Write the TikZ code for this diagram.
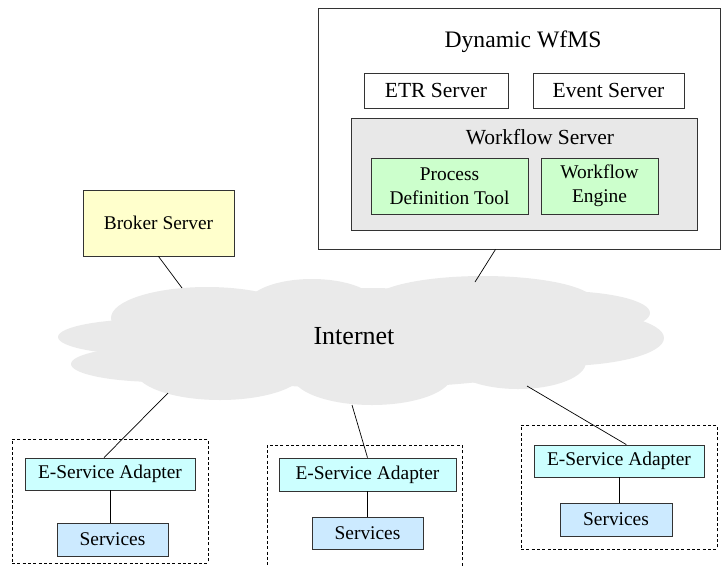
\documentclass[tikz,border=0pt]{standalone}
\usepackage{fontspec}
\setmainfont{Liberation Serif}
\definecolor{brokeryellow}{RGB}{255, 255, 204}
\definecolor{toolgreen}{RGB}{204, 255, 204}
\definecolor{adaptcyan}{RGB}{204, 255, 255}
\definecolor{servblue}{RGB}{204, 234, 255}
\definecolor{servergray}{RGB}{232, 232, 232}
\definecolor{cloudgray}{RGB}{234, 234, 234}
\usepackage{tikz}
\usetikzlibrary{positioning}
\newcommand{\pxu}{0.025cm}

\tikzset{
  srvbox/.style={draw=black!80, line width=0.6pt, inner sep=0pt, align=center,
    font=\fontsize{13.8}{17}\selectfont},
  sized/.style 2 args={minimum width=#1*\pxu, minimum height=#2*\pxu},
  headfont/.style={font=\fontsize{15.3}{18}\selectfont},
  grpbox/.style={draw=black, line width=0.6pt, dash pattern=on 2.2pt off 1.6pt, inner sep=0pt},
  link/.style={draw=black, line width=0.5pt}
}

\begin{document}
\begin{tikzpicture}[x=0.025cm, y=-0.025cm]
  \clip (0,0) rectangle (721,566);

  % Internet cloud
  \begin{scope}[fill=cloudgray]
    \fill (150,337) ellipse [x radius=92, y radius=18];
    \fill (160,364) ellipse [x radius=89, y radius=18];
    \fill (207,318) ellipse [x radius=96, y radius=31];
    \fill (312,305) ellipse [x radius=65, y radius=26];
    \fill (483,302) ellipse [x radius=112, y radius=26];
    \fill (560,313) ellipse [x radius=90, y radius=22];
    \fill (560,338) ellipse [x radius=104, y radius=28];
    \fill (518,362) ellipse [x radius=68, y radius=27];
    \fill (372,375) ellipse [x radius=80, y radius=30];
    \fill (220,370) ellipse [x radius=85, y radius=30];
    \fill (360,338) ellipse [x radius=250, y radius=50];
  \end{scope}
  \node[font=\fontsize{18.5}{22}\selectfont] (inet) at (354,336) {Internet};
  \coordinate (netbk) at (182,288);
  \coordinate (netwf) at (475,282);
  \coordinate (net1) at (168,393);
  \coordinate (net2) at (352,405);
  \coordinate (net3) at (527,386);

  % Dynamic WfMS
  \node[srvbox, sized={402}{241}] (wfms) at (519,128.5) {};
  \node[font=\fontsize{16.8}{20}\selectfont] (wftitle) at (523,42) {Dynamic WfMS};
  \node[srvbox, headfont, sized={144}{35}] (etr) at (436,90.5) {ETR Server};
  \node[srvbox, headfont, sized={151}{35}] (event) at (608.5,90.5) {Event Server};
  \node[srvbox, fill=servergray, sized={346}{112}] (wfsrv) at (524,174) {};
  \node[headfont] (wfsrvlabel) at (540,137) {Workflow Server};
  \node[srvbox, fill=toolgreen, sized={157}{56}] (pdt) at (449.5,186) {Process\\Definition Tool};
  \node[srvbox, fill=toolgreen, sized={117}{56}] (wfe) at (599.5,186) {Workflow\\Engine};

  % Broker
  \node[srvbox, fill=brokeryellow, sized={151}{66}] (broker) at (158.5,223) {Broker Server};

  % E-service sites
  \node[grpbox, sized={196}{124}] (grp1) at (110,501) {};
  \node[srvbox, fill=adaptcyan, sized={170}{32}] (ad1) at (110,474) {E-Service Adapter};
  \node[srvbox, fill=servblue, sized={111}{33}] (svc1) at (112.5,539.5) {Services};

  \node[grpbox, sized={195}{134}] (grp2) at (364.5,512) {};
  \node[srvbox, fill=adaptcyan, sized={177}{33}] (ad2) at (367.5,474.5) {E-Service Adapter};
  \node[srvbox, fill=servblue, sized={111}{32}] (svc2) at (367.5,533) {Services};

  \node[grpbox, sized={196}{124}] (grp3) at (619,487) {};
  \node[srvbox, fill=adaptcyan, sized={170}{32}] (ad3) at (619,461) {E-Service Adapter};
  \node[srvbox, fill=servblue, sized={112}{33}] (svc3) at (616,519.5) {Services};

  % Links
  \draw[link] (broker.south) -- (netbk);
  \draw[link] (wfms.259) -- (netwf);
  \draw[link] (ad1.110) -- (net1);
  \draw[link] (ad2.north) -- (net2);
  \draw[link] (ad3.66) -- (net3);
  \draw[link] (ad1.south) -- (ad1.south |- svc1.north);
  \draw[link] (ad2.south) -- (svc2.north);
  \draw[link] (ad3.south) -- (ad3.south |- svc3.north);
\end{tikzpicture}
\end{document}
